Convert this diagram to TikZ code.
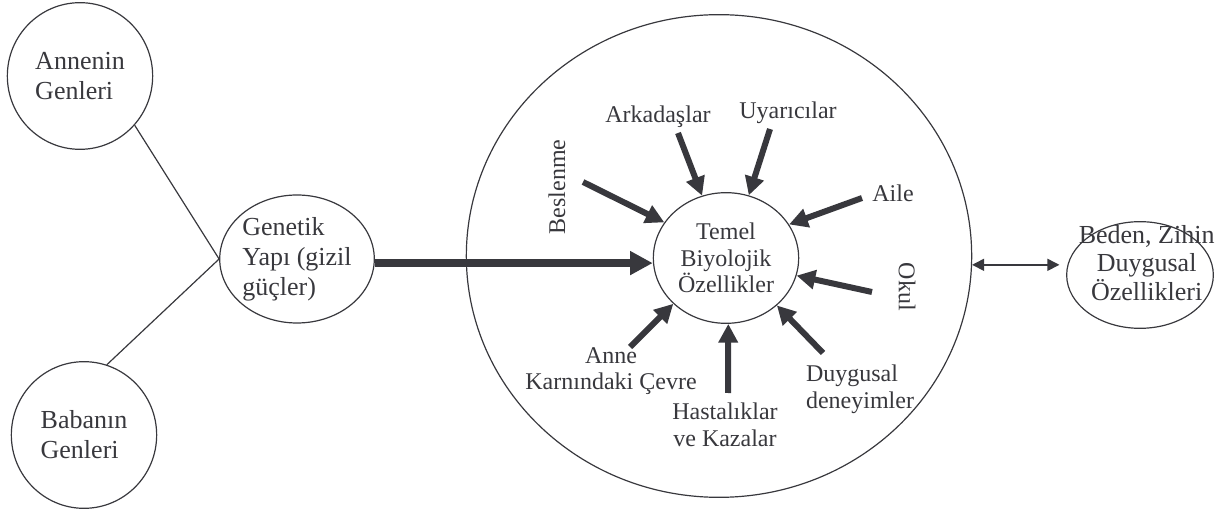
\documentclass[tikz,border=0pt]{standalone}
\usepackage{fontspec}
\setmainfont{Liberation Serif}
\usepackage{tikz}
\usetikzlibrary{arrows.meta, shapes.geometric}
\definecolor{ink}{HTML}{38383D}
\tikzstyle{fRing} = [ellipse, draw=ink, line width=0.9pt, inner sep=0pt, text=ink, font=\fontsize{19.5}{22.5}\selectfont]
\tikzstyle{fLabel} = [text=ink, inner sep=0pt, font=\fontsize{18}{20}\selectfont]
\tikzstyle{fLine} = [draw=ink, line width=0.9pt]
\tikzstyle{fArrow} = [draw=ink, line width=4.5pt, -{Triangle[length=14pt, width=14pt]}]
\tikzstyle{fBigArrow} = [draw=ink, line width=6pt, -{Triangle[length=17pt, width=17pt]}]
\tikzstyle{fBothArrow} = [draw=ink, line width=1.1pt, {Triangle[length=9pt, width=9pt]}-{Triangle[length=9pt, width=9pt]}]

\begin{document}
\begin{tikzpicture}[x=0.75pt, y=-0.75pt]
    \useasboundingbox (0,0) rectangle (1221,509);
    % genes and the genetic make-up
    \node (annen) [fRing, minimum width=109pt, minimum height=110pt, align=left] at (80,76) {Annenin\\Genleri};
    \node (baban) [fRing, minimum width=109pt, minimum height=110pt, align=left] at (84,435) {Babanın\\Genleri};
    \node (genetik) [fRing, minimum width=112pt, minimum height=96pt, align=left] at (297,259) {Genetik\\Yapı (gizil\\güçler)};
    \draw [fLine] (annen.-42) -- (genetik.west);
    \draw [fLine] (baban.72) -- (genetik.west);
    % environment circle
    \node (cevre) [fRing, minimum width=379pt, minimum height=362pt] at (719,256) {};
    \node (temel) [fRing, minimum width=109pt, minimum height=98pt, align=center, font=\fontsize{18}{20}\selectfont] at (726,258) {Temel\\Biyolojik\\Özellikler};
    \node (beden) [fRing, minimum width=110pt, minimum height=80pt,
        label={[fLabel, align=center, font=\fontsize{19.5}{21.4}\selectfont, xshift=5pt, yshift=9pt]center:Beden, Zihin\\Duygusal\\Özellikleri}] at (1140,275) {};
    \draw [fBigArrow] (genetik.-3) -- (genetik.-3 -| temel.west);
    \draw [fBothArrow] (cevre.-2) -- ([xshift=-5pt]cevre.-2 -| beden.west);

    % influences
    \node (beslenme) [fLabel, rotate=90] at (557,187) {Beslenme};
    \node (arkadas) [fLabel] at (658,117) {Arkadaşlar};
    \node (uyarici) [fLabel] at (788,113) {Uyarıcılar};
    \node (aile) [fLabel] at (893,193) {Aile};
    \node (okul) [fLabel, rotate=-90] at (907,287) {Okul};
    \node (anne) [fLabel, align=center] at (611,371) {Anne\\Karnındaki Çevre};
    \node (hastalik) [fLabel, align=center] at (725,425) {Hastalıklar\\ve Kazalar};
    \node (duygu) [fLabel, align=left] at (860,389) {Duygusal\\deneyimler};

    \coordinate (cBeslenme) at (583,182);
    \coordinate (cArkadas) at (678,133);
    \coordinate (cUyarici) at (770,129);
    \coordinate (cAile) at (862,198);
    \coordinate (cOkul) at (872,292);
    \coordinate (cAnne) at (630,347);
    \coordinate (cHastalik) at (728,393);
    \coordinate (cDuygu) at (823,353);

    \draw [fArrow] (cBeslenme) -- (temel.150);
    \draw [fArrow] (cArkadas) -- (temel.111);
    \draw [fArrow] (cUyarici) -- (temel.70);
    \draw [fArrow] (cAile) -- (temel.28);
    \draw [fArrow] (cOkul) -- (temel.-14);
    \draw [fArrow] (cAnne) -- (temel.221);
    \draw [fArrow] (cHastalik) -- (temel.272);
    \draw [fArrow] (cDuygu) -- (temel.317);
\end{tikzpicture}
\end{document}
